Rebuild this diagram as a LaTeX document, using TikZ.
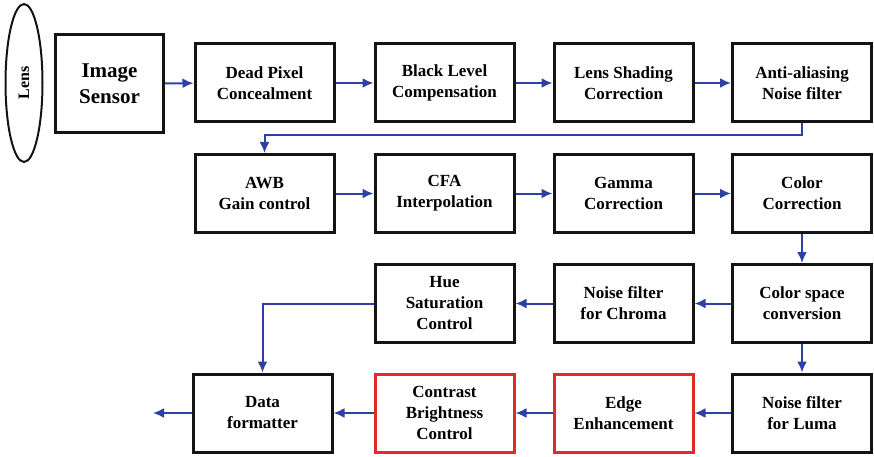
\documentclass[tikz,border=0pt]{standalone}
\usepackage{fontspec}
\setmainfont{Liberation Serif}
\usepackage{graphicx}
\usepackage{tikz}
\usetikzlibrary{arrows.meta, positioning, shapes.geometric}
\definecolor{flowblue} {RGB}{45,  65, 165}
\definecolor{hiliter}  {RGB}{220, 45,  40}
\definecolor{boxline}  {RGB}{20,  20,  20}
\tikzset{
  stage/.style={draw=boxline, line width=3pt, minimum width=139pt, minimum height=78pt,
    inner sep=2pt, align=center, font=\bfseries\fontsize{17}{21}\selectfont},
  hstage/.style={stage, draw=hiliter},
  flow/.style={-{Latex[length=11pt, width=10pt]}, flowblue, line width=2pt},
}

\begin{document}
\begin{tikzpicture}[x=1pt, y=-1pt]
  \useasboundingbox (0,0) rectangle (874,457);
  % lens and sensor
  \node[draw=boxline, line width=2pt, ellipse, minimum width=37pt, minimum height=158pt, inner sep=0pt]
    (lens) at (24,83) {\rotatebox{90}{\bfseries\fontsize{16}{19}\selectfont Lens}};
  \node[stage, minimum width=108pt, minimum height=98pt, font=\bfseries\fontsize{21}{26}\selectfont]
    (sensor) at (109.5,83.5) {Image\\Sensor};
  % row 1
  \node[stage] (dpc) at (264.5,83) {Dead Pixel\\Concealment};
  \node[stage] (blc) at (444.5,83) {Black Level\\Compensation};
  \node[stage] (lsc) at (623.5,83) {Lens Shading\\Correction};
  \node[stage] (aaf) at (802,83) {Anti-aliasing\\Noise filter};
  % row 2
  \node[stage] (awb) at (264.5,193.5) {AWB\\Gain control};
  \node[stage] (cfa) at (444.5,193.5) {CFA\\Interpolation};
  \node[stage] (gam) at (623.5,193.5) {Gamma\\Correction};
  \node[stage] (cc)  at (802,193.5) {Color\\Correction};
  % row 3
  \node[stage] (hue) at (444.5,303.5) {Hue\\Saturation\\Control};
  \node[stage] (nfc) at (623.5,303.5) {Noise filter\\for Chroma};
  \node[stage] (csc) at (802,303.5) {Color space\\conversion};
  % row 4
  \node[stage]  (df)   at (262.5,413) {Data\\formatter};
  \node[hstage] (cbc)  at (444.5,413) {Contrast\\Brightness\\Control};
  \node[hstage] (edge) at (623.5,413) {Edge\\Enhancement};
  \node[stage]  (nfl)  at (802,413) {Noise filter\\for Luma};
  \coordinate (out) at (153,413);
  % connectors
  \draw[flow] (sensor) -- (dpc);
  \draw[flow] (dpc) -- (blc);
  \draw[flow] (blc) -- (lsc);
  \draw[flow] (lsc) -- (aaf);
  \draw[flow] (aaf.south) -- ++(0,12) -| (awb.north);
  \draw[flow] (awb) -- (cfa);
  \draw[flow] (cfa) -- (gam);
  \draw[flow] (gam) -- (cc);
  \draw[flow] (cc) -- (csc);
  \draw[flow] (csc) -- (nfc);
  \draw[flow] (nfc) -- (hue);
  \draw[flow] (hue.west) -| (df.north);
  \draw[flow] (csc) -- (nfl);
  \draw[flow] (nfl) -- (edge);
  \draw[flow] (edge) -- (cbc);
  \draw[flow] (cbc) -- (df);
  \draw[flow] (df) -- (out);
\end{tikzpicture}
\end{document}
